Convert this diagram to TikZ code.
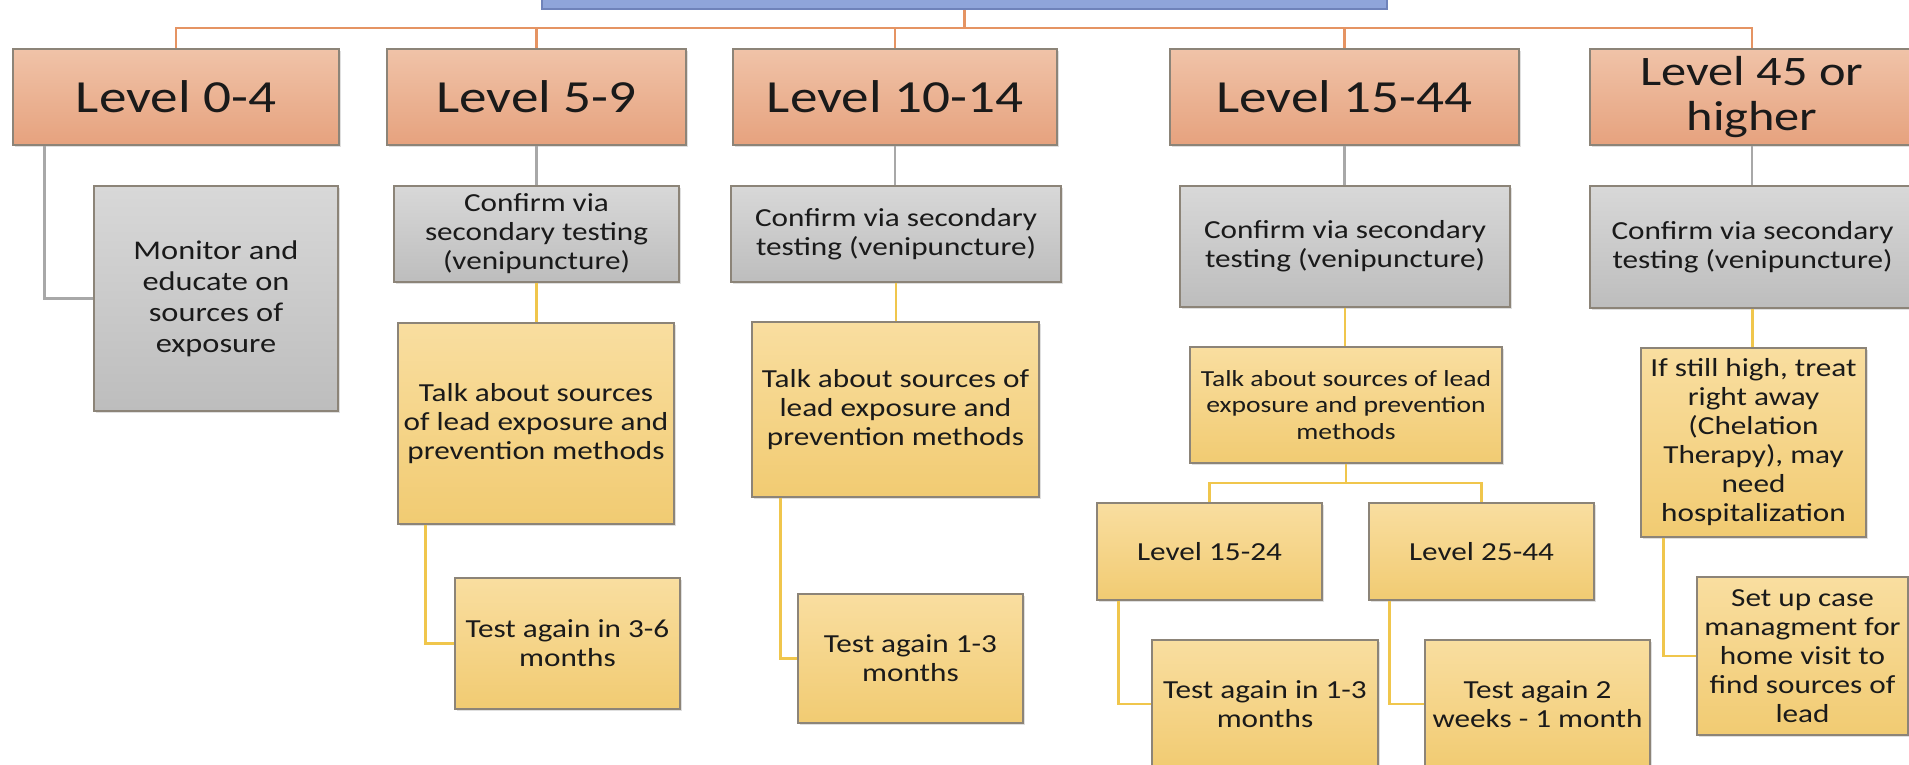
\documentclass[tikz,border=0pt]{standalone}
\usepackage{fontspec}
\setmainfont{Carlito}[FakeStretch=1.2]
\usetikzlibrary{shadows}
\definecolor{topblue}{HTML}{8FA5DA}
\definecolor{topblueedge}{HTML}{6F83BA}
\definecolor{orgtop}{HTML}{F0C3A8}
\definecolor{orgbot}{HTML}{E6A27E}
\definecolor{grytop}{HTML}{D8D8D8}
\definecolor{grybot}{HTML}{BDBDBD}
\definecolor{yeltop}{HTML}{F9DEA0}
\definecolor{yelbot}{HTML}{F1CB72}
\definecolor{edgecol}{HTML}{8C8478}
\definecolor{orgline}{HTML}{E59463}
\definecolor{gryline}{HTML}{A8A8A8}
\definecolor{yelline}{HTML}{F0C64C}
\definecolor{ink}{HTML}{1A1A1A}
\tikzset{
  box/.style={draw=edgecol, line width=1.4pt, align=center, text=ink,
    inner sep=2pt,
    drop shadow={shadow xshift=2pt, shadow yshift=-2pt, opacity=0.25}},
  lvlbox/.style={box, top color=orgtop, bottom color=orgbot,
    font=\fontsize{46}{50}\selectfont},
  graybox/.style={box, top color=grytop, bottom color=grybot,
    font=\fontsize{26}{29}\selectfont},
  yelbox/.style={box, top color=yeltop, bottom color=yelbot,
    font=\fontsize{26}{29}\selectfont},
  orgconn/.style={draw=orgline, line width=2.5pt},
  gryconn/.style={draw=gryline, line width=2.5pt},
  yelconn/.style={draw=yelline, line width=2.5pt},
}
\begin{document}
\begin{tikzpicture}[x=1pt, y=-1pt]
\useasboundingbox (0,0) rectangle (1909,764);
\clip (0,0) rectangle (1909,764);

% root box, mostly above the top edge
\node[draw=topblueedge, fill=topblue, line width=1.4pt,
  minimum width=845pt, minimum height=49pt] (root) at (964.5,-15.5) {};

% level boxes
\node[lvlbox, minimum width=326pt, minimum height=96pt] (l1) at (176,97) {Level 0-4};
\node[lvlbox, minimum width=299pt, minimum height=96pt] (l2) at (536.5,97) {Level 5-9};
\node[lvlbox, minimum width=324pt, minimum height=96pt] (l3) at (895,97) {Level 10-14};
\node[lvlbox, minimum width=349pt, minimum height=96pt] (l4) at (1344.5,97) {Level 15-44};
\node[lvlbox, minimum width=324pt, minimum height=96pt,
  font=\fontsize{42}{45}\selectfont] (l5) at (1752,97) {Level 45 or\\higher};

% confirmation / monitoring boxes
\node[graybox, minimum width=244pt, minimum height=225pt,
  font=\fontsize{27}{31}\selectfont] (g1) at (216,298.5)
  {Monitor and\\educate on\\sources of\\exposure};
\node[graybox, minimum width=285pt, minimum height=96pt] (g2) at (536.5,234)
  {Confirm via\\secondary testing\\(venipuncture)};
\node[graybox, minimum width=330pt, minimum height=96pt] (g3) at (896,234)
  {Confirm via secondary\\testing (venipuncture)};
\node[graybox, minimum width=330pt, minimum height=121pt] (g4) at (1345,246.5)
  {Confirm via secondary\\testing (venipuncture)};
\node[graybox, minimum width=325pt, minimum height=122pt] (g5) at (1752.5,247)
  {Confirm via secondary\\testing (venipuncture)};

% follow-up boxes
\node[yelbox, minimum width=276pt, minimum height=201pt] (y2) at (536,423.5)
  {Talk about sources\\of lead exposure and\\prevention methods};
\node[yelbox, minimum width=287pt, minimum height=175pt] (y3) at (895.5,409.5)
  {Talk about sources of\\lead exposure and\\prevention methods};
\node[yelbox, minimum width=312pt, minimum height=116pt,
  font=\fontsize{23}{26.5}\selectfont] (y4) at (1346,405)
  {Talk about sources of lead\\exposure and prevention\\methods};
\node[yelbox, minimum width=225pt, minimum height=189pt] (y5) at (1753.5,442.5)
  {If still high, treat\\right away\\(Chelation\\Therapy), may\\need\\hospitalization};

\node[yelbox, minimum width=225pt, minimum height=131pt] (t2) at (567.5,643.5)
  {Test again in 3-6\\months};
\node[yelbox, minimum width=225pt, minimum height=129pt] (t3) at (910.5,658.5)
  {Test again 1-3\\months};

\node[yelbox, minimum width=225pt, minimum height=97pt] (s1) at (1209.5,551.5) {Level 15-24};
\node[yelbox, minimum width=225pt, minimum height=97pt] (s2) at (1481.5,551.5) {Level 25-44};
\node[yelbox, minimum width=226pt, minimum height=128pt] (t4a) at (1265,704)
  {Test again in 1-3\\months};
\node[yelbox, minimum width=225pt, minimum height=128pt] (t4b) at (1537.5,704)
  {Test again 2\\weeks - 1 month};
\node[yelbox, minimum width=211pt, minimum height=158pt] (t5) at (1802.5,656)
  {Set up case\\managment for\\home visit to\\find sources of\\lead};

% root to level boxes
\coordinate (bus) at (964.5,28);
\draw[orgconn] (root.south) -- (bus);
\foreach \n in {l1,l2,l3,l4,l5} \draw[orgconn] (bus) -| (\n.north);

% level boxes to confirmation boxes
\draw[gryconn] ([xshift=32pt]l1.south west) |- (g1.west);
\draw[gryconn] (l2.south) -- (g2.north);
\draw[gryconn] (l3.south) -- (l3.south |- g3.north);
\draw[gryconn] (l4.south) -- (l4.south |- g4.north);
\draw[gryconn] (l5.south) -- (l5.south |- g5.north);

% confirmation boxes to follow-up boxes
\draw[yelconn] (g2.south) -- (g2.south |- y2.north);
\draw[yelconn] (g3.south) -- (g3.south |- y3.north);
\draw[yelconn] (g4.south) -- (g4.south |- y4.north);
\draw[yelconn] (g5.south) -- (g5.south |- y5.north);

\draw[yelconn] ([xshift=28pt]y2.south west) |- (t2.west);
\draw[yelconn] ([xshift=29pt]y3.south west) |- (t3.west);

\coordinate (split) at (1346,483);
\draw[yelconn] (y4.south) -- (split);
\draw[yelconn] (split) -| (s1.north);
\draw[yelconn] (split) -| (s2.north);
\draw[yelconn] ([xshift=22pt]s1.south west) |- (t4a.west);
\draw[yelconn] ([xshift=21pt]s2.south west) |- (t4b.west);
\draw[yelconn] ([xshift=23pt]y5.south west) |- (t5.west);
\end{tikzpicture}
\end{document}
